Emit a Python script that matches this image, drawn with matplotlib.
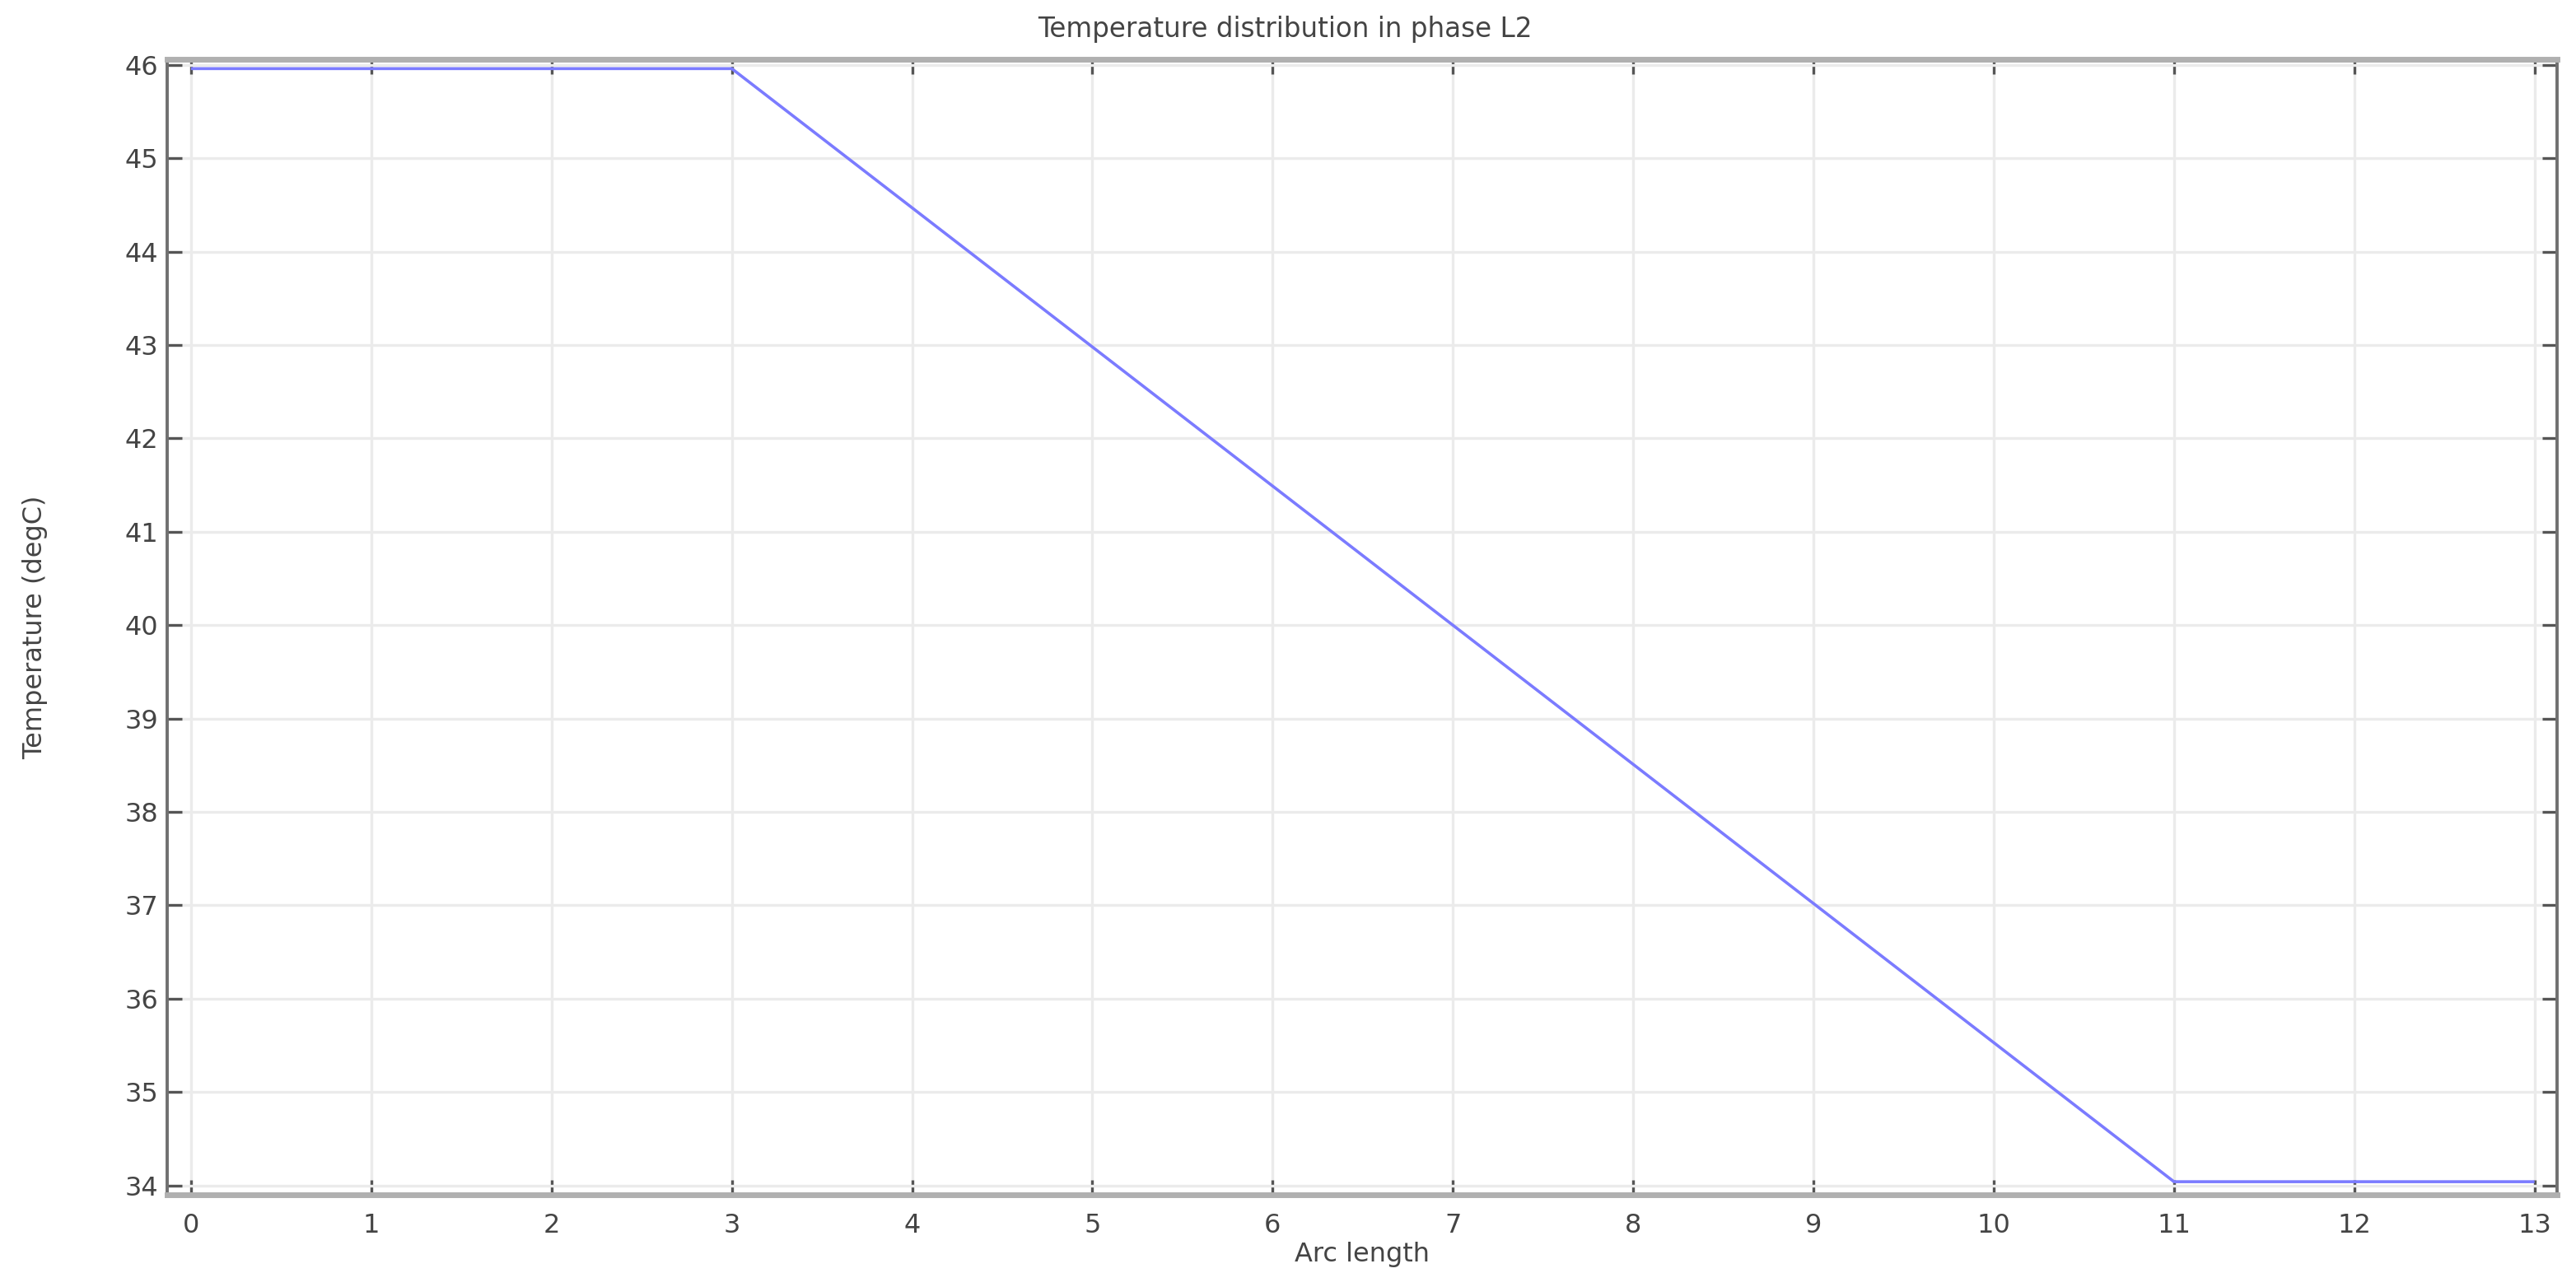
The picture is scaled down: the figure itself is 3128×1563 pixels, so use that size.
import matplotlib
matplotlib.use("Agg")
import matplotlib.pyplot as plt

# data
arc = [0, 3, 11, 13]
temp = [45.96, 45.96, 34.04, 34.04]
xticks = list(range(0, 14))
yticks = list(range(34, 47))

W, H = 3128, 1563
fig = plt.figure(figsize=(W / 100, H / 100), dpi=100)
ax = fig.add_axes([203 / W, 1 - 1451 / H, (3105 - 203) / W, (1451 - 72) / H])

ax.plot(arc, temp, color="#7b7bff", lw=2.6, solid_capstyle="butt", zorder=3)

ax.set_xlim(-0.132, 13.125)
ax.set_ylim(33.9, 46.06)
ax.set_xticks(xticks)
ax.set_yticks(yticks)
ax.grid(True, color="#ebebeb", lw=2.4)
ax.set_axisbelow(True)

ax.tick_params(axis="both", direction="in", length=13, width=2.4, color="#555555",
               labelsize=23, labelcolor="#444444")
ax.tick_params(axis="x", top=True, pad=16)
ax.tick_params(axis="y", right=True, pad=8)

for s in ["top", "bottom"]:
    ax.spines[s].set_color("#b0b0b0")
    ax.spines[s].set_linewidth(5)
for s in ["left", "right"]:
    ax.spines[s].set_color("#707070")
    ax.spines[s].set_linewidth(2.8)

ax.set_xlabel("Arc length", fontsize=23, color="#444444", labelpad=3)
ax.set_ylabel("Temperature (degC)", fontsize=23, color="#444444")
ax.yaxis.set_label_coords(-0.05, 0.5)

fig.text(0.4987, 1 - 45 / H, "Temperature distribution in phase L2",
         ha="center", va="baseline", fontsize=23.5, color="#444444")

fig.savefig("out.png", dpi=100)
